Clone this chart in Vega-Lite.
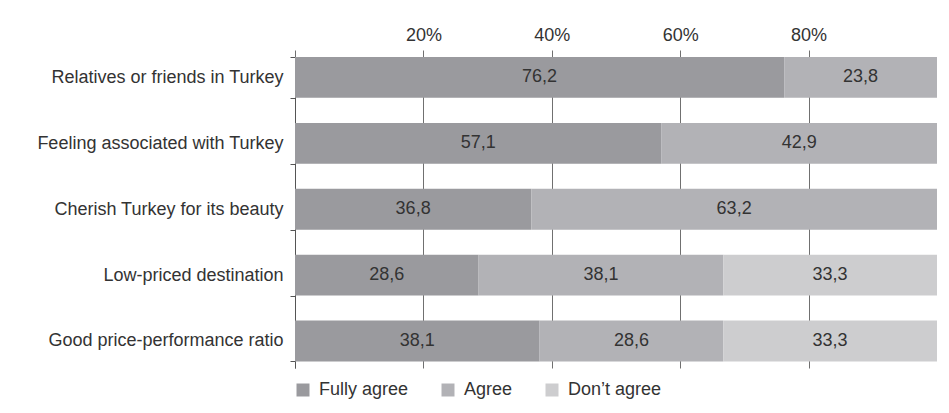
{
  "$schema": "https://vega.github.io/schema/vega-lite/v6.json",
  "width": 642,
  "height": 311,
  "autosize": {"type": "none"},
  "padding": {"left": 295, "top": 57, "right": 12, "bottom": 45},
  "background": "white",
  "config": {
    "view": {"stroke": null},
    "font": "Liberation Sans",
    "locale": {"number": {"decimal": ",", "thousands": ".", "grouping": [3], "currency": ["", " €"]}}
  },
  "data": {
    "values": [
      {"item": "Relatives or friends in Turkey", "answer": "Fully agree", "rank": 1, "pct": 76.2},
      {"item": "Relatives or friends in Turkey", "answer": "Agree", "rank": 2, "pct": 23.8},
      {"item": "Feeling associated with Turkey", "answer": "Fully agree", "rank": 1, "pct": 57.1},
      {"item": "Feeling associated with Turkey", "answer": "Agree", "rank": 2, "pct": 42.9},
      {"item": "Cherish Turkey for its beauty", "answer": "Fully agree", "rank": 1, "pct": 36.8},
      {"item": "Cherish Turkey for its beauty", "answer": "Agree", "rank": 2, "pct": 63.2},
      {"item": "Low-priced destination", "answer": "Fully agree", "rank": 1, "pct": 28.6},
      {"item": "Low-priced destination", "answer": "Agree", "rank": 2, "pct": 38.1},
      {"item": "Low-priced destination", "answer": "Don’t agree", "rank": 3, "pct": 33.3},
      {"item": "Good price-performance ratio", "answer": "Fully agree", "rank": 1, "pct": 38.1},
      {"item": "Good price-performance ratio", "answer": "Agree", "rank": 2, "pct": 28.6},
      {"item": "Good price-performance ratio", "answer": "Don’t agree", "rank": 3, "pct": 33.3}
    ]
  },
  "transform": [
    {"stack": "pct", "groupby": ["item"], "sort": [{"field": "rank", "order": "ascending"}], "as": ["x0", "x1"], "offset": "zero"},
    {"calculate": "(datum.x0 + datum.x1) / 2", "as": "xmid"}
  ],
  "encoding": {
    "y": {
      "field": "item",
      "type": "nominal",
      "sort": null,
      "scale": {"paddingInner": 0.38, "paddingOuter": 0.05, "align": 0},
      "axis": {
        "title": null,
        "orient": "left",
        "domain": true,
        "domainColor": "#555555",
        "tickBand": "extent",
        "tickSize": 5,
        "tickColor": "#555555",
        "labelPadding": 7,
        "labelFontSize": 18,
        "labelColor": "#333333",
        "labelLimit": 400,
        "grid": false
      }
    }
  },
  "layer": [
    {
      "mark": {"type": "bar"},
      "encoding": {
        "x": {
          "field": "x0",
          "type": "quantitative",
          "scale": {"domain": [0, 100], "nice": false},
          "axis": {
            "title": null,
            "orient": "top",
            "values": [0, 20, 40, 60, 80],
            "labelExpr": "datum.value == 0 ? '' : datum.value + '%'",
            "domain": false,
            "grid": true,
            "gridColor": "#707070",
            "gridOpacity": 1,
            "tickSize": 7,
            "tickColor": "#707070",
            "labelPadding": 6,
            "labelFontSize": 18,
            "labelColor": "#333333"
          }
        },
        "x2": {"field": "x1"},
        "color": {
          "field": "answer",
          "type": "nominal",
          "scale": {"domain": ["Fully agree", "Agree", "Don’t agree"], "range": ["#9a9a9e", "#b2b2b6", "#cdcdcf"]},
          "legend": {
            "title": null,
            "orient": "none",
            "direction": "horizontal",
            "legendX": -1,
            "legendY": 324,
            "symbolType": "square",
            "symbolSize": 169,
            "symbolStrokeWidth": 0,
            "symbolOpacity": 1,
            "labelFontSize": 18,
            "labelColor": "#333333",
            "labelOffset": 7,
            "columnPadding": 30,
            "labelLimit": 300
          }
        }
      }
    },
    {
      "mark": {"type": "text", "fontSize": 18, "color": "#333333", "align": "center", "baseline": "middle"},
      "encoding": {
        "x": {"field": "xmid", "type": "quantitative"},
        "text": {"field": "pct", "type": "quantitative", "format": ".1f"}
      }
    }
  ]
}
